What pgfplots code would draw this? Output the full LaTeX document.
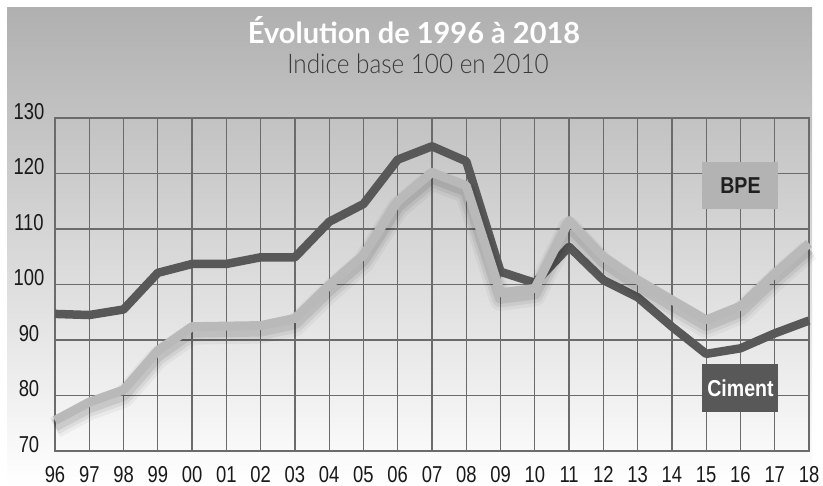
\documentclass[border=0pt]{standalone}
\usepackage{pgfplots}
\pgfplotsset{compat=1.18}
\usepackage{pgfplotstable}
\usepackage{fontspec}
\setmainfont{Liberation Sans}
\newfontfamily\tickfont[FakeStretch=0.8]{Liberation Sans}
\newfontfamily\labfont[FakeStretch=0.85]{Liberation Sans}
\newfontfamily\titlefont{Lato}
\newfontfamily\subfont[FakeStretch=0.9]{Lato Light}
\definecolor{bgtop}{HTML}{B0B0B0}
\definecolor{gridc}{HTML}{6B6B6B}
\definecolor{ciment}{HTML}{585858}
\definecolor{bpe}{HTML}{B9B9B9}
\definecolor{bpebox}{HTML}{B3B3B3}
\definecolor{subc}{HTML}{3A3A3A}

\pgfplotstableread{
x y
0 94.7
1 94.5
2 95.5
3 102.1
4 103.7
5 103.7
6 104.9
7 104.9
8 111.3
9 114.5
10 122.5
11 124.9
12 122.2
13 102.3
14 100.3
15 106.8
16 100.8
17 97.7
18 92.4
19 87.5
20 88.5
21 91.2
22 93.5
}\ciment

\pgfplotstableread{
x y
0 75.5
1 78.8
2 81.0
3 88.1
4 92.4
5 92.5
6 92.6
7 93.9
8 99.9
9 105.3
10 115.0
11 120.2
12 117.8
13 98.5
14 99.3
15 111.5
16 105.0
17 100.8
18 97.2
19 93.6
20 96.1
21 102.0
22 107.4
}\bpetab

\begin{document}
\begin{tikzpicture}
\useasboundingbox (0bp,0bp) rectangle (823bp,486bp);
\shade[top color=bgtop, bottom color=white] (7bp,0bp) rectangle (812bp,478bp);
\node[anchor=base, text=white, inner sep=0pt] at (414bp,442bp)
  {\titlefont\bfseries\fontsize{29bp}{29bp}\selectfont Évolution de 1996 à 2018};
\node[anchor=base, text=subc, inner sep=0pt] at (418bp,412bp)
  {\subfont\fontsize{27bp}{27bp}\selectfont Indice base 100 en 2010};
\begin{axis}[
  at={(55bp,35bp)}, anchor=south west,
  width=754bp, height=333bp, scale only axis,
  xmin=0, xmax=22, ymin=70, ymax=130,
  xtick={0,...,22},
  xticklabels={96,97,98,99,00,01,02,03,04,05,06,07,08,09,10,11,12,13,14,15,16,17,18},
  ytick={70,80,...,130},
  grid=major,
  major grid style={color=gridc, line width=1.2bp},
  axis line style={color=gridc, line width=1.2bp},
  tick style={draw=none},
  /pgf/number format/assume math mode=true,
  ticklabel style={font=\tickfont\fontsize{23bp}{23bp}\selectfont, text=black!90},
  xticklabel style={anchor=base, yshift=-31bp},
  yticklabel style={anchor=base, xshift=-26bp, yshift=-1bp},
  clip=false,
]
\addplot[color=ciment, line width=8.5bp, line join=round] table[x=x,y=y] {\ciment};
\addplot[color=black, opacity=0.04, line width=22bp, line join=round, yshift=-7bp] table[x=x,y=y] {\bpetab};
\addplot[color=black, opacity=0.06, line width=17bp, line join=round, yshift=-6bp] table[x=x,y=y] {\bpetab};
\addplot[color=black, opacity=0.08, line width=12bp, line join=round, yshift=-5bp] table[x=x,y=y] {\bpetab};
\addplot[color=bpe, line width=9bp, line join=round] table[x=x,y=y] {\bpetab};
\node[fill=bpebox, minimum width=76bp, minimum height=47bp, inner sep=0pt, text=black!88]
  at (axis cs:20,117.9) {\labfont\bfseries\fontsize{23bp}{23bp}\selectfont BPE};
\node[fill=ciment, minimum width=76bp, minimum height=48bp, inner sep=0pt, text=white]
  at (axis cs:20,81.3) {\labfont\bfseries\fontsize{23bp}{23bp}\selectfont Ciment};
\end{axis}
\end{tikzpicture}
\end{document}
